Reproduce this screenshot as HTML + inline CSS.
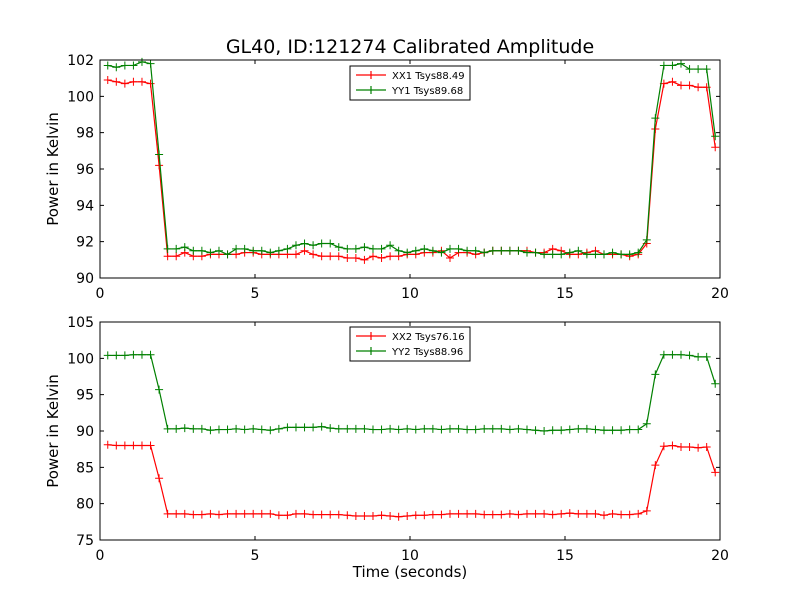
<!DOCTYPE html>
<html><head><meta charset="utf-8"><style>
body{margin:0;background:#fff}
svg{display:block;font-family:"DejaVu Sans","Liberation Sans",sans-serif}
</style></head><body>
<svg id="c" width="800" height="600" xmlns="http://www.w3.org/2000/svg">
<rect width="800" height="600" fill="#fff"/>
<text x="410" y="53" font-size="19" text-anchor="middle">GL40, ID:121274 Calibrated Amplitude</text>
</svg>
<script>
const xTicks=[0,5,10,15,20];
const topYTicks=[90,92,94,96,98,100,102];
const botYTicks=[75,80,85,90,95,100,105];
const t0=0.25, dt=0.276;
const xx1High1=[100.9,100.8,100.7,100.8,100.8,100.7];
const xx1Low=[91.2,91.2,91.4,91.2,91.2,91.3,91.3,91.3,91.3,91.4,91.4,91.3,91.3,91.3,91.3,91.3,91.5,91.3,91.2,91.2,91.2,91.1,91.1,91.0,91.2,91.1,91.2,91.2,91.3,91.3,91.4,91.4,91.5,91.1,91.4,91.4,91.3,91.4,91.5,91.5,91.5,91.5,91.5,91.4,91.4,91.6,91.5,91.3,91.3,91.4,91.5,91.3,91.3,91.3,91.2,91.3];
const xx1High2=[100.7,100.8,100.6,100.6,100.5,100.5];
const xx1=[...xx1High1,96.2,...xx1Low,91.9,98.2,...xx1High2,97.2];
const yy1High1=[101.7,101.6,101.7,101.7,101.9,101.8];
const yy1Low=[91.6,91.6,91.7,91.5,91.5,91.4,91.5,91.3,91.6,91.6,91.5,91.5,91.4,91.5,91.6,91.8,91.9,91.8,91.9,91.9,91.7,91.6,91.6,91.7,91.6,91.6,91.8,91.5,91.4,91.5,91.6,91.5,91.4,91.6,91.6,91.5,91.5,91.4,91.5,91.5,91.5,91.5,91.4,91.4,91.3,91.3,91.3,91.4,91.5,91.3,91.3,91.3,91.4,91.3,91.3,91.4];
const yy1High2=[101.7,101.7,101.8,101.5,101.5,101.5];
const yy1=[...yy1High1,96.8,...yy1Low,92.1,98.8,...yy1High2,97.8];
const xx2High1=[88.1,88.0,88.0,88.0,88.0,88.0];
const xx2Low=[78.6,78.6,78.6,78.5,78.5,78.6,78.5,78.6,78.6,78.6,78.6,78.6,78.6,78.4,78.4,78.6,78.6,78.5,78.5,78.5,78.5,78.4,78.3,78.3,78.3,78.4,78.3,78.2,78.3,78.4,78.4,78.5,78.5,78.6,78.6,78.6,78.6,78.5,78.5,78.5,78.6,78.5,78.6,78.6,78.6,78.5,78.6,78.7,78.6,78.6,78.6,78.4,78.6,78.5,78.5,78.6];
const xx2High2=[87.9,88.0,87.8,87.8,87.7,87.8];
const xx2=[...xx2High1,83.5,...xx2Low,79.0,85.3,...xx2High2,84.3];
const yy2High1=[100.4,100.4,100.4,100.5,100.5,100.5];
const yy2Low=[90.3,90.3,90.4,90.3,90.3,90.1,90.2,90.2,90.3,90.2,90.3,90.2,90.1,90.3,90.5,90.5,90.5,90.5,90.6,90.4,90.3,90.3,90.3,90.3,90.2,90.2,90.3,90.2,90.3,90.2,90.3,90.3,90.2,90.3,90.3,90.2,90.2,90.3,90.3,90.3,90.2,90.3,90.2,90.1,90.0,90.1,90.1,90.2,90.3,90.3,90.2,90.1,90.1,90.1,90.2,90.2];
const yy2High2=[100.5,100.5,100.5,100.4,100.2,100.2];
const yy2=[...yy2High1,95.7,...yy2Low,91.0,97.8,...yy2High2,96.5];

const NS="http://www.w3.org/2000/svg";
const svg=document.getElementById('c');
function mk(tag,attrs,parent){const e=document.createElementNS(NS,tag);for(const k in attrs)e.setAttribute(k,attrs[k]);(parent||svg).appendChild(e);return e;}
const L=100,R=720;
function xs(v){return L+(v-0)/(20-0)*(R-L);}
function panel(top,bot,ymin,ymax,yTicks,series,legend,prefix,showXTitle,legY){
  const g=mk('g',{});
  
  
  const ys=v=>bot-(v-ymin)/(ymax-ymin)*(bot-top);
  // series
  series.forEach((s,si)=>{
    const pts=s.data.map((v,i)=>[xs(t0+i*dt),ys(v)]);
    const pl=mk('polyline',{points:pts.map(p=>p.join(',')).join(' '),fill:'none',stroke:s.color,'stroke-width':1.2},g);
    
    
    let d='';pts.forEach(p=>{d+=`M${p[0]-4},${p[1]}h8M${p[0]},${p[1]-4}v8`;});
    const m=mk('path',{d:d,stroke:s.color,'stroke-width':1},g);
    
    
  });
  const fr=mk('rect',{x:L,y:top,width:R-L,height:bot-top,fill:'none',stroke:'#000','stroke-width':1},g);
  
  
  xTicks.forEach(v=>{
    const x=xs(v);
    mk('path',{d:`M${x},${bot}v-4M${x},${top}v4`,stroke:'#000'},g);
    const t=mk('text',{x:x,y:bot+20,'font-size':14,'text-anchor':'middle'},g);
    t.textContent=v;
    
    
  });
  yTicks.forEach(v=>{
    const y=ys(v);
    mk('path',{d:`M${L},${y}h4M${R},${y}h-4`,stroke:'#000'},g);
    const t=mk('text',{x:L-6,y:y+5,'font-size':14,'text-anchor':'end'},g);
    t.textContent=v;
    
    
  });
  const yl=mk('text',{x:0,y:0,'font-size':15,'text-anchor':'middle',transform:`translate(58,${(top+bot)/2}) rotate(-90)`},g);
  yl.textContent='Power in Kelvin';
  
  
  if(showXTitle){
    const xt=mk('text',{x:410,y:577,'font-size':15,'text-anchor':'middle'},g);
    xt.textContent='Time (seconds)';
    
    
  }
  const lg=mk('g',{},g);
  
  
  mk('rect',{x:350,y:legY,width:120,height:34,fill:'#fff',stroke:'#000'},lg);
  legend.forEach((txt,i)=>{
    const y=legY+9+i*15;
    const c=series[i].color;
    mk('path',{d:`M356,${y}h30M371,${y-4}v8`,stroke:c,'stroke-width':1.2},lg);
    const t=mk('text',{x:392,y:y+4,'font-size':10},lg);
    t.textContent=txt;
    
    
  });
}
panel(60,278,90,102,topYTicks,[{name:'xx1',data:xx1,color:'#ff0000'},{name:'yy1',data:yy1,color:'#008000'}],['XX1 Tsys88.49','YY1 Tsys89.68'],'top',false,66);
panel(322,540,75,105,botYTicks,[{name:'xx2',data:xx2,color:'#ff0000'},{name:'yy2',data:yy2,color:'#008000'}],['XX2 Tsys76.16','YY2 Tsys88.96'],'bottom',true,327);
</script>
</body></html>
